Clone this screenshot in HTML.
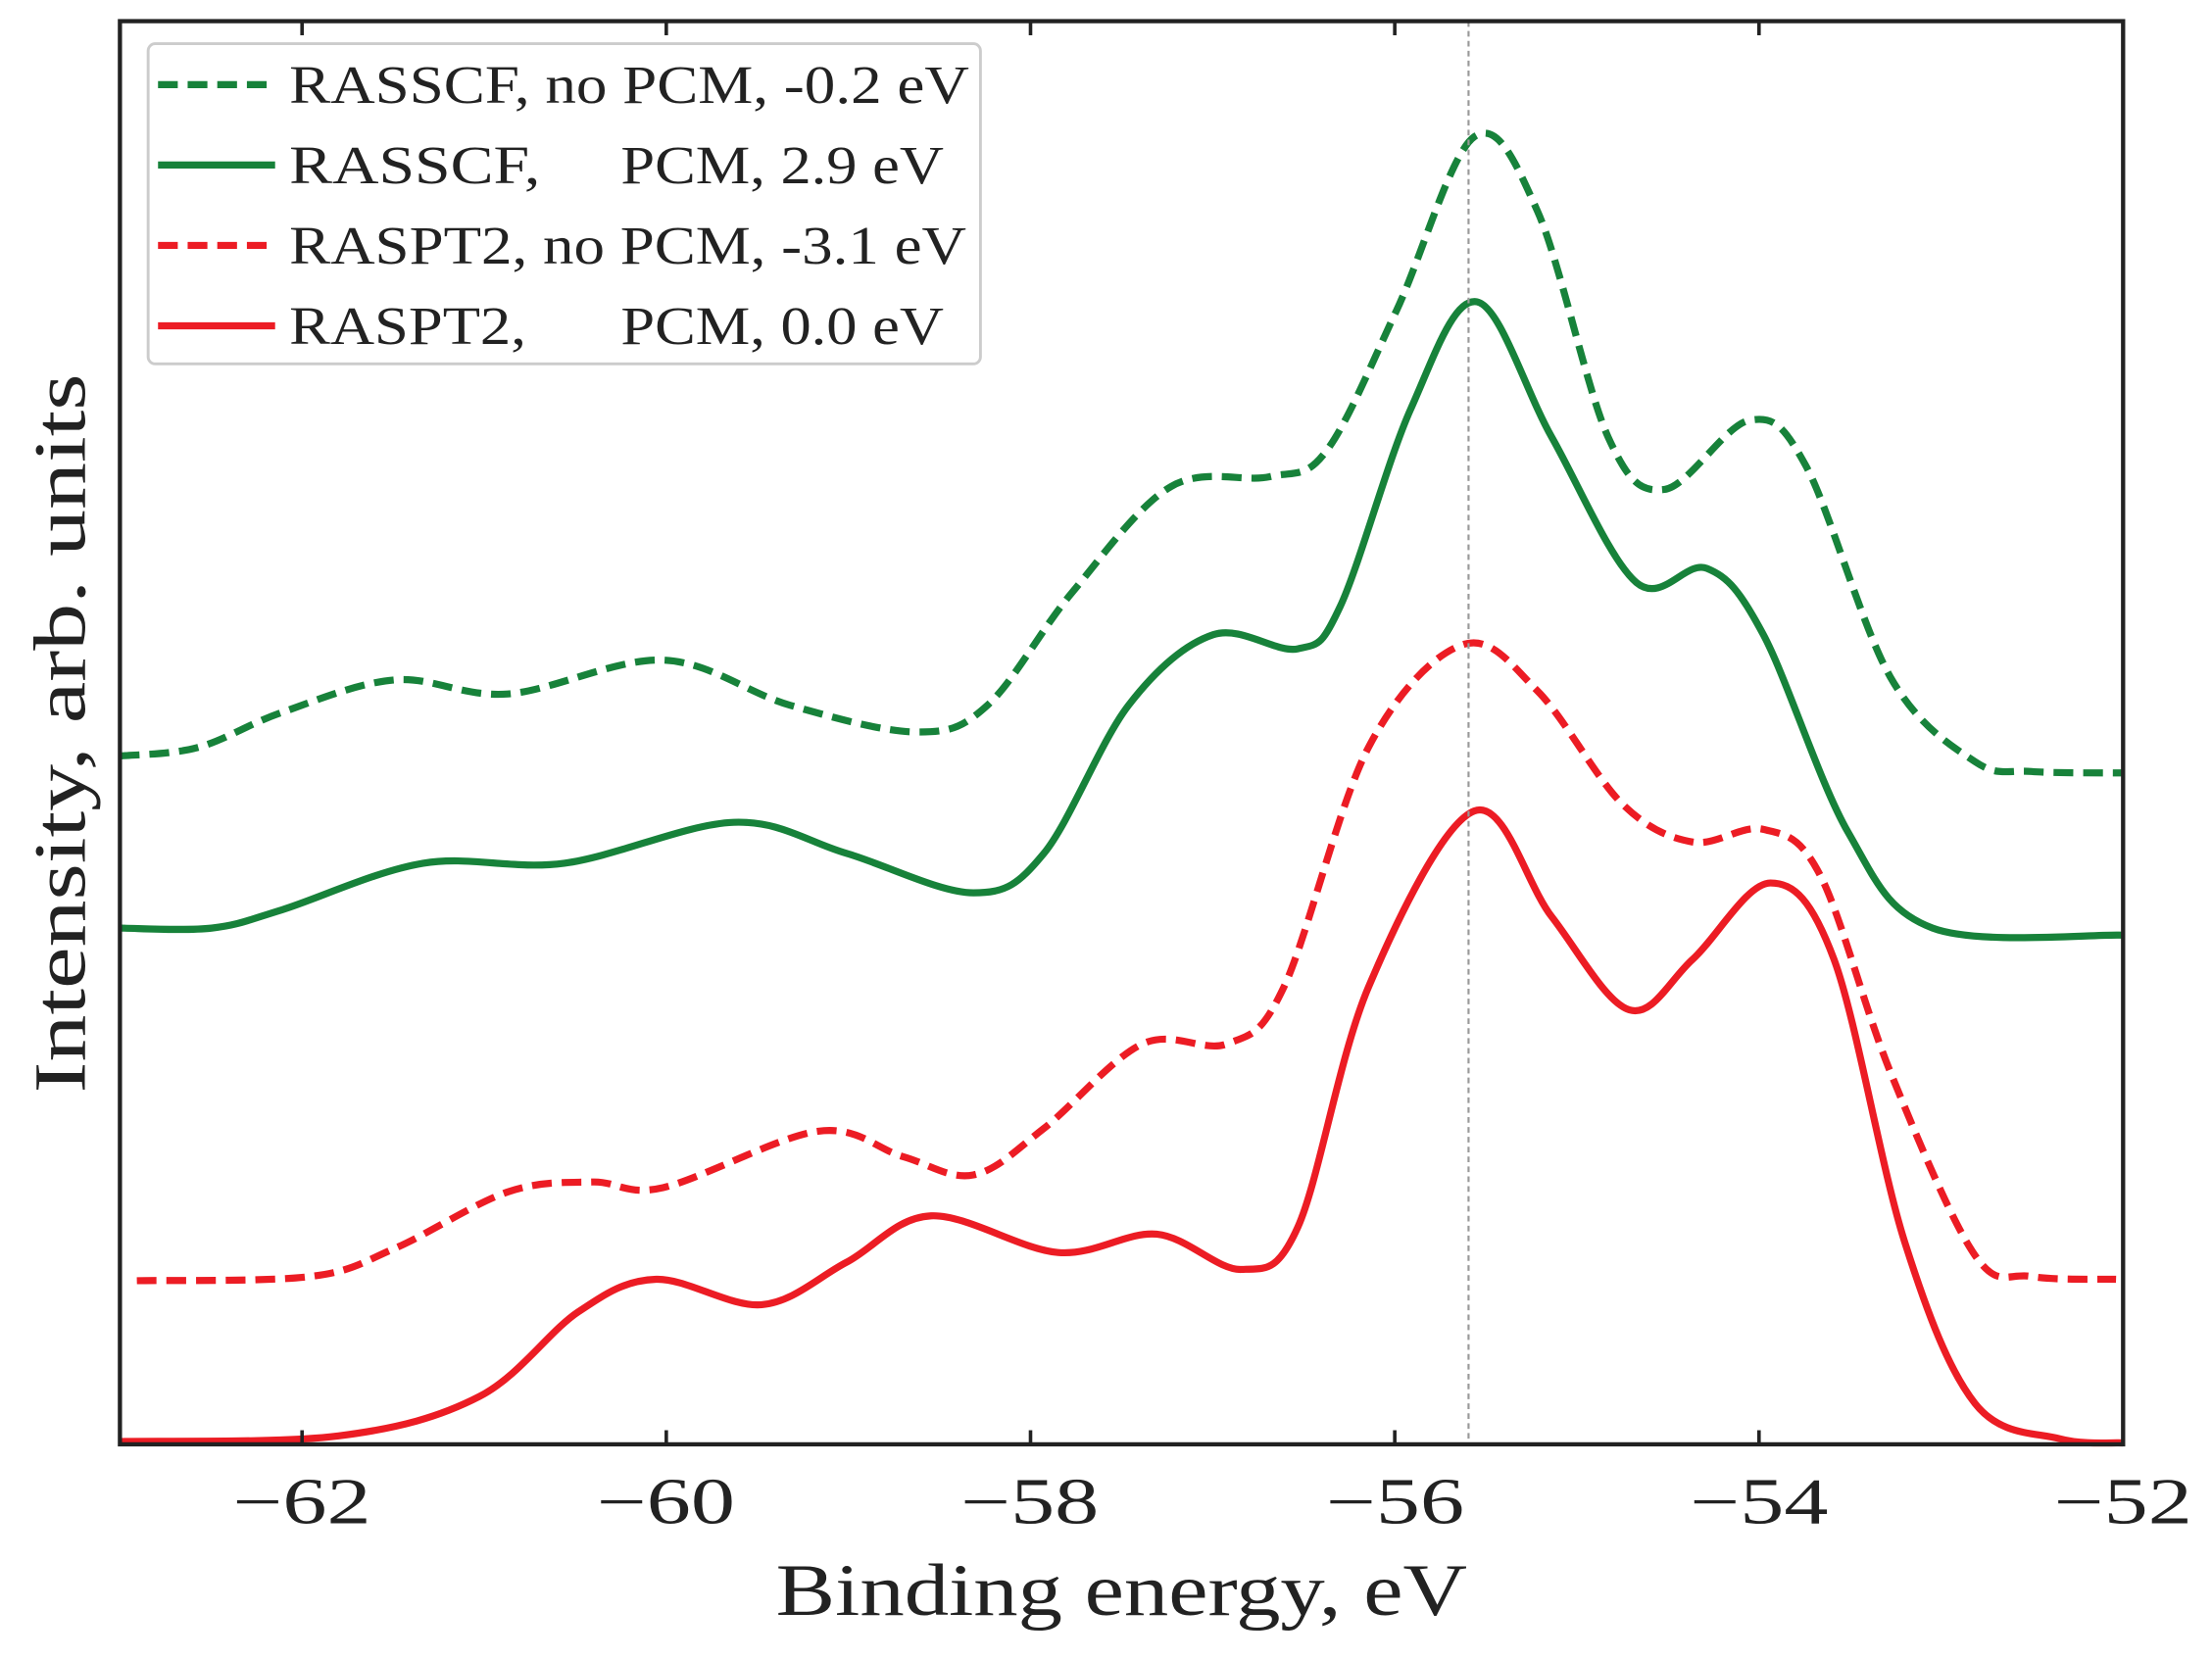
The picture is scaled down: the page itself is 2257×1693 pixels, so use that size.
<!DOCTYPE html>
<html><head><meta charset="utf-8"><style>html,body{margin:0;padding:0;background:#fff}svg{display:block}</style></head>
<body>
<svg id="s" xmlns="http://www.w3.org/2000/svg" width="2257" height="1693" viewBox="0 0 1568 1176.2">
<rect width="1568" height="1176.2" fill="#fff"/>
<g id="curves"></g>
<line x1="1041" y1="15" x2="1041" y2="1024" stroke="#999" stroke-width="1.5" stroke-dasharray="4,3"/>
<rect x="85" y="15" width="1420" height="1009" fill="none" stroke="#222" stroke-width="3"/>
<g id="ticks" stroke="#222" stroke-width="2.5"></g>
<g font-family="Liberation Serif, serif" fill="#222" font-size="46" text-anchor="middle">
<text x="214" y="1080" textLength="98" lengthAdjust="spacingAndGlyphs">−62</text>
<text x="472" y="1080" textLength="98" lengthAdjust="spacingAndGlyphs">−60</text>
<text x="730" y="1080" textLength="98" lengthAdjust="spacingAndGlyphs">−58</text>
<text x="989" y="1080" textLength="98" lengthAdjust="spacingAndGlyphs">−56</text>
<text x="1247" y="1080" textLength="98" lengthAdjust="spacingAndGlyphs">−54</text>
<text x="1505" y="1080" textLength="98" lengthAdjust="spacingAndGlyphs">−52</text>
<text x="795" y="1145" font-size="52" textLength="490" lengthAdjust="spacingAndGlyphs">Binding energy, eV</text>
<text transform="translate(60,520) rotate(-90)" font-size="52" textLength="510" lengthAdjust="spacingAndGlyphs">Intensity, arb. units</text>
</g>
<rect x="105" y="31" width="590" height="227" rx="5" fill="#fff" stroke="#ccc" stroke-width="2"/>
<g stroke-width="5" fill="none">
<line x1="112" y1="60" x2="195" y2="60" stroke="#17823a" stroke-dasharray="14,7"/>
<line x1="112" y1="117" x2="195" y2="117" stroke="#17823a"/>
<line x1="112" y1="174" x2="195" y2="174" stroke="#ec1c24" stroke-dasharray="14,7"/>
<line x1="112" y1="231" x2="195" y2="231" stroke="#ec1c24"/>
</g>
<g font-family="Liberation Serif, serif" fill="#222" font-size="38" lengthAdjust="spacingAndGlyphs">
<text x="205" y="73" textLength="482" lengthAdjust="spacingAndGlyphs">RASSCF, no PCM, -0.2 eV</text>
<text x="205" y="130" textLength="178" lengthAdjust="spacingAndGlyphs">RASSCF,</text><text x="440" y="130" textLength="229" lengthAdjust="spacingAndGlyphs">PCM, 2.9 eV</text>
<text x="205" y="187" textLength="480" lengthAdjust="spacingAndGlyphs">RASPT2, no PCM, -3.1 eV</text>
<text x="205" y="244" textLength="168" lengthAdjust="spacingAndGlyphs">RASPT2,</text><text x="440" y="244" textLength="229" lengthAdjust="spacingAndGlyphs">PCM, 0.0 eV</text>
</g>
</svg>
<script>
function cr(p){let d="M"+p[0][0]+","+p[0][1];for(let i=0;i<p.length-1;i++){const a=p[Math.max(0,i-1)],b=p[i],c=p[i+1],e=p[Math.min(p.length-1,i+2)];d+=" C"+(b[0]+(c[0]-a[0])/6)+","+(b[1]+(c[1]-a[1])/6)+" "+(c[0]-(e[0]-b[0])/6)+","+(c[1]-(e[1]-b[1])/6)+" "+c[0]+","+c[1];}return d;}
const S=[
[[[85,536],[140,530],[200,505],[280,482],[360,492],[470,468],[560,500],[650,519],[700,500],[760,420],[830,345],[900,338],[940,320],[990,220],[1045,97],[1090,150],[1140,310],[1180,347],[1240,298],[1280,330],[1340,480],[1400,540],[1440,547],[1505,548]],"#17823a",1],
[[[85,658],[150,658],[200,645],[300,612],[400,612],[520,583],[600,605],[690,633],[740,605],[800,500],[860,450],[920,460],[950,430],[1000,290],[1047,214],[1100,310],[1160,413],[1210,403],[1250,450],[1310,590],[1370,658],[1505,663]],"#17823a",0],
[[[97,908],[220,905],[280,885],[360,845],[420,838],[470,842],[580,802],[640,820],[690,833],[740,800],[810,740],[870,740],[910,700],[970,530],[1037,457],[1090,490],[1150,570],[1200,597],[1250,588],[1290,620],[1340,760],[1400,890],[1440,905],[1500,907]],"#ec1c24",1],
[[[85,1022],[240,1018],[340,990],[410,930],[465,907],[540,925],[600,895],[660,862],[750,888],[820,875],[880,900],[920,870],[970,700],[1045,575],[1100,650],[1155,716],[1200,680],[1255,626],[1300,680],[1350,880],[1400,995],[1460,1020],[1505,1023]],"#ec1c24",0]];
let h="";for(const [p,c,d] of S)h+='<path d="'+cr(p)+'" fill="none" stroke="'+c+'" stroke-width="5"'+(d?' stroke-dasharray="14,7"':'')+'/>';
document.getElementById("curves").innerHTML=h;
let t="";for(let v=-62;v<=-53;v+=2){const x=85+(v+63)*129.1;t+='<line x1="'+x+'" y1="1024" x2="'+x+'" y2="1014"/><line x1="'+x+'" y1="15" x2="'+x+'" y2="25"/>';}
document.getElementById("ticks").innerHTML=t;
</script>
</body></html>
